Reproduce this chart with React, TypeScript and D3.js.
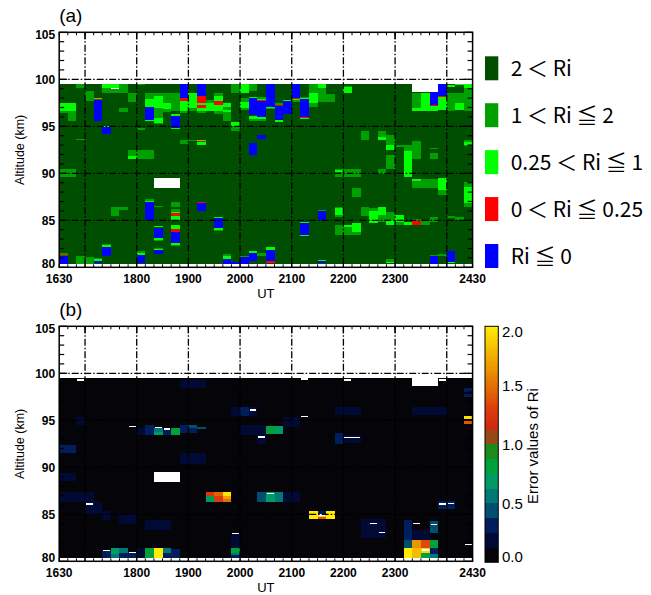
import React from 'react';
import * as d3 from 'd3';

// ---------------- axes ----------------
const TIME_DOMAIN = [1630, 2430];
const TIME_TICK_LABELS = [1630, 1800, 1900, 2000, 2100, 2200, 2300, 2430];
const TIME_GRID = [1700, 1800, 1900, 2000, 2100, 2200, 2300, 2400];
const ALT_DOMAIN = [80, 105];
const ALT_TICK_LABELS = [80, 85, 90, 95, 100, 105];
const ALT_GRID = [85, 90, 95, 100];

// ---------------- panel (a) : Ri classes ----------------
const RI_LABELS = ['2 ＜ Ri', '1 ＜ Ri ≦ 2', '0.25 ＜ Ri ≦ 1', '0 ＜ Ri ≦ 0.25', 'Ri ≦ 0'];
const RI_COLORS = ['#004e00', '#00a000', '#00ff00', '#ff0000', '#0000ff'];
// class: 0 dark, 1 medium, 2 light, 3 red, 4 blue, -1 missing
const W_ = -1, D = 0, M = 1, L = 2, R = 3, B = 4;
// [start UT, end UT, alt low, alt high, class]
const riPatches = [
  [1630, 2430, 80.4, 99.5, D],
  [1630, 1650, 96.6, 97.5, L], [1630, 1650, 96.4, 96.6, M], [1640, 1650, 95.6, 96.4, M],
  [1650, 1700, 99.1, 99.5, M], [1700, 1710, 97.7, 98.8, M],
  [1710, 1720, 97.9, 98.05, L], [1710, 1720, 97.75, 97.9, R], [1710, 1720, 95.6, 97.75, B],
  [1720, 1750, 98.5, 99.1, M], [1720, 1740, 99.1, 99.5, L], [1740, 1750, 99.1, 99.5, M],
  [1730, 1740, 98.95, 99.05, W_],
  [1750, 1800, 97.6, 98.5, M], [1740, 1750, 96.5, 96.95, M],
  [1720, 1730, 94.9, 95.0, L], [1720, 1730, 94.2, 94.9, B],
  [1650, 1700, 93.55, 93.7, M],
  [1750, 1800, 91.8, 92.5, M], [1750, 1800, 91.56, 91.8, L], [1800, 1820, 91.56, 92.5, M],
  [1800, 1810, 94.6, 94.8, M], [1850, 1900, 93.1, 93.5, M], [1900, 1910, 93.4, 93.5, M],
  [1910, 1920, 93.45, 93.55, L], [1910, 1920, 93.3, 93.45, R], [1910, 1920, 93.05, 93.3, L],
  [1630, 1650, 89.6, 90.5, M],
  [1800, 1810, 99.35, 99.5, M],
  [1810, 1820, 97.9, 98.5, M], [1810, 1820, 97.05, 97.9, L], [1810, 1820, 95.7, 97.05, B], [1810, 1820, 95.55, 95.7, L],
  [1820, 1830, 98.2, 98.5, M], [1820, 1830, 96.95, 98.2, L], [1820, 1830, 95.9, 96.95, M], [1820, 1830, 95.4, 95.9, L], [1820, 1830, 95.2, 95.4, M],
  [1830, 1840, 97.5, 98.5, M], [1830, 1840, 96.8, 97.5, L], [1830, 1840, 96.5, 96.8, M],
  [1840, 1850, 96.6, 98.5, M], [1840, 1850, 96.06, 96.35, L], [1840, 1850, 94.8, 96.06, B], [1840, 1850, 94.7, 94.8, L],
  [1850, 1900, 98.0, 99.5, B], [1850, 1900, 97.7, 98.0, R], [1850, 1900, 96.6, 97.7, L], [1850, 1900, 96.4, 96.6, M],
  [1900, 1910, 96.95, 98.5, L], [1900, 1910, 96.6, 96.95, M],
  [1910, 1920, 98.2, 99.5, B], [1910, 1920, 97.5, 98.2, R], [1910, 1920, 97.3, 97.5, L], [1910, 1920, 97.0, 97.3, R], [1910, 1920, 96.6, 97.0, L], [1910, 1920, 96.45, 96.6, M],
  [1920, 1950, 96.6, 97.5, L], [1920, 1930, 97.5, 97.8, M],
  [1930, 1940, 98.2, 98.55, M], [1930, 1940, 97.66, 98.2, L], [1930, 1940, 97.25, 97.66, R], [1930, 1940, 96.6, 97.25, L], [1930, 1940, 96.35, 96.6, M],
  [1940, 1950, 95.6, 97.1, M], [1940, 1950, 96.55, 96.7, L],
  [1950, 2000, 98.5, 99.5, M], [1950, 2000, 94.5, 95.0, M], [1950, 2000, 95.0, 95.45, L],
  [2000, 2010, 98.5, 99.5, L], [2000, 2010, 96.7, 98.0, M], [2000, 2010, 96.95, 97.55, L],
  [2010, 2020, 98.8, 99.5, M], [2010, 2020, 98.0, 98.12, L], [2010, 2020, 96.25, 98.0, B], [2010, 2020, 95.8, 96.05, L], [2010, 2020, 95.6, 95.8, M],
  [2010, 2020, 91.98, 93.22, B],
  [2020, 2030, 97.95, 98.15, M], [2020, 2030, 97.85, 97.95, L], [2020, 2030, 97.73, 97.85, R], [2020, 2030, 95.96, 97.73, B], [2020, 2030, 95.75, 95.96, L], [2020, 2030, 95.6, 95.75, M],
  [2020, 2030, 93.69, 94.04, B],
  [2030, 2040, 97.1, 99.5, B], [2030, 2040, 96.95, 97.1, L], [2030, 2040, 96.8, 96.95, M],
  [2040, 2050, 97.3, 97.45, M], [2040, 2050, 97.2, 97.3, R], [2040, 2050, 95.71, 97.2, B], [2040, 2050, 95.46, 95.71, L],
  [2050, 2100, 97.66, 97.76, L], [2050, 2100, 96.35, 97.66, B],
  [2100, 2110, 98.0, 99.5, B], [2100, 2110, 97.9, 98.0, R], [2100, 2110, 97.8, 97.9, L], [2100, 2110, 97.6, 97.8, M],
  [2110, 2120, 98.0, 98.15, M], [2110, 2120, 97.9, 98.0, L], [2110, 2120, 96.0, 97.9, B], [2110, 2120, 95.9, 96.0, R], [2110, 2120, 95.8, 95.9, L],
  [2120, 2130, 98.5, 99.5, M], [2120, 2130, 97.5, 98.5, L], [2120, 2130, 97.1, 97.5, M],
  [2130, 2140, 99.1, 99.5, L], [2130, 2140, 97.6, 99.1, M], [2140, 2150, 97.6, 98.4, M],
  [2200, 2210, 99.15, 99.3, M], [2200, 2210, 98.55, 99.15, L],
  [2320, 2330, 96.95, 98.5, M], [2320, 2330, 96.6, 96.95, L],
  [2330, 2340, 96.6, 98.5, L],
  [2340, 2350, 97.3, 98.6, B], [2340, 2350, 97.15, 97.3, R], [2340, 2350, 96.6, 97.15, L],
  [2350, 2400, 98.2, 99.5, B], [2350, 2400, 98.08, 98.2, R], [2350, 2400, 96.7, 98.08, L],
  [2400, 2410, 96.6, 98.5, M], [2400, 2410, 99.15, 99.4, L],
  [2410, 2420, 99.35, 99.5, L], [2410, 2420, 96.7, 98.5, M], [2410, 2420, 96.75, 97.45, L],
  [2420, 2430, 99.1, 99.5, L], [2420, 2430, 96.6, 99.1, M],
  [2320, 2350, 98.6, 99.5, W_],
  [2220, 2230, 93.58, 94.54, M], [2240, 2250, 93.86, 94.54, M], [2240, 2250, 93.55, 93.86, L],
  [2250, 2300, 93.05, 94.1, M], [2250, 2300, 92.5, 93.05, L], [2250, 2300, 90.5, 92.0, M],
  [2300, 2310, 92.8, 93.05, M], [2310, 2320, 92.4, 93.05, M], [2310, 2320, 89.6, 92.4, L],
  [2320, 2330, 91.56, 93.4, M], [2340, 2350, 91.56, 92.2, M], [2340, 2350, 92.6, 92.7, M],
  [2420, 2430, 92.87, 93.5, M], [2420, 2430, 93.05, 93.3, L],
  [2150, 2220, 89.6, 90.5, M], [2150, 2200, 90.1, 90.35, L], [2240, 2250, 89.9, 90.5, M],
  [1820, 1850, 88.47, 89.5, W_],
  [1730, 1740, 85.46, 86.45, M], [1740, 1750, 86.1, 86.45, M],
  [1810, 1820, 87.1, 87.25, M], [1810, 1820, 86.9, 87.1, L], [1810, 1820, 85.03, 86.9, B],
  [1820, 1830, 86.45, 86.55, M],
  [1840, 1850, 86.45, 86.98, M], [1840, 1850, 85.9, 86.2, M], [1840, 1850, 85.75, 85.9, L], [1840, 1850, 85.5, 85.75, R], [1840, 1850, 85.03, 85.5, L],
  [1910, 1920, 86.9, 87.0, M], [1910, 1920, 86.8, 86.9, R], [1910, 1920, 86.0, 86.8, B],
  [1930, 1940, 85.28, 85.38, L], [1930, 1940, 84.15, 85.28, B], [1930, 1940, 84.0, 84.15, L], [1930, 1940, 83.9, 84.0, M],
  [2130, 2140, 86.0, 86.1, M], [2130, 2140, 85.03, 86.0, B],
  [2110, 2120, 84.68, 84.78, L], [2110, 2120, 83.44, 84.68, B], [2110, 2120, 83.34, 83.44, L],
  [2150, 2200, 85.3, 86.45, M], [2150, 2200, 85.56, 86.27, L],
  [2150, 2220, 83.4, 84.5, M], [2200, 2220, 84.25, 84.5, L], [2210, 2220, 83.8, 84.7, L],
  [2210, 2220, 87.5, 88.4, M],
  [2220, 2230, 85.5, 86.45, M], [2230, 2240, 86.0, 86.3, M], [2230, 2240, 84.7, 86.0, L],
  [2240, 2250, 85.56, 86.4, L], [2240, 2250, 84.8, 85.56, M],
  [2250, 2300, 85.03, 85.9, M], [2250, 2300, 84.5, 85.03, L],
  [2300, 2310, 84.85, 85.6, L], [2300, 2310, 84.5, 84.85, M], [2310, 2320, 84.5, 84.85, L],
  [2320, 2330, 84.93, 85.1, M], [2320, 2330, 84.5, 84.93, R], [2330, 2340, 84.5, 84.95, M],
  [2340, 2350, 84.85, 85.39, M],
  [2320, 2350, 88.4, 89.36, M], [2320, 2330, 89.2, 89.36, L], [2350, 2400, 88.2, 89.46, L], [2350, 2400, 87.7, 88.2, M],
  [2420, 2430, 88.58, 89.1, M], [2420, 2430, 86.8, 88.58, L], [2420, 2430, 86.4, 86.8, M],
  [2400, 2410, 85.2, 85.46, M], [2410, 2420, 85.0, 85.3, M],
  [1630, 1640, 81.3, 81.56, M], [1630, 1640, 81.2, 81.3, R], [1630, 1640, 80.3, 81.2, B],
  [1650, 1700, 80.3, 81.2, M], [1700, 1710, 80.4, 81.06, M],
  [1710, 1720, 80.85, 80.95, M], [1710, 1720, 80.7, 80.85, L], [1710, 1720, 80.42, 80.7, B],
  [1720, 1730, 82.34, 82.48, M], [1720, 1730, 82.2, 82.34, L], [1720, 1730, 81.2, 82.2, B],
  [1800, 1810, 81.55, 81.75, M], [1800, 1810, 81.3, 81.55, L], [1800, 1810, 80.42, 81.3, B],
  [1820, 1830, 84.3, 84.4, L], [1820, 1830, 83.08, 84.2, B], [1820, 1830, 82.9, 83.08, L], [1820, 1830, 82.8, 82.9, M],
  [1820, 1830, 81.9, 82.05, M], [1820, 1830, 81.8, 81.9, L], [1820, 1830, 81.45, 81.8, B],
  [1840, 1850, 84.04, 84.55, L], [1840, 1850, 83.79, 84.04, R], [1840, 1850, 82.62, 83.79, B], [1840, 1850, 82.55, 82.62, R], [1840, 1850, 82.4, 82.55, L], [1840, 1850, 82.3, 82.4, M],
  [1940, 1950, 81.2, 81.4, M], [1940, 1950, 80.85, 81.2, L], [1940, 1950, 80.35, 80.85, B],
  [1950, 2000, 80.35, 80.6, B],
  [2000, 2010, 81.06, 81.15, M], [2000, 2010, 80.35, 81.06, B],
  [2010, 2020, 81.48, 81.73, L], [2010, 2020, 80.7, 81.48, B],
  [2020, 2030, 81.2, 81.48, M],
  [2030, 2040, 81.84, 82.12, L], [2030, 2040, 80.7, 81.84, B], [2030, 2040, 80.42, 80.7, R],
  [2130, 2140, 80.65, 80.8, L], [2130, 2140, 80.5, 80.65, B],
  [2250, 2300, 80.6, 80.85, M], [2250, 2300, 80.5, 80.6, L],
  [2340, 2350, 81.2, 81.35, M], [2340, 2350, 80.35, 81.2, B], [2350, 2400, 81.2, 81.4, M],
  [2400, 2410, 80.6, 81.73, B], [2400, 2410, 80.45, 80.6, L],
];

// ---------------- panel (b) : error of Ri ----------------
const ERR_TICKS = [0, 0.5, 1.0, 1.5, 2.0];
const ERR_BAND_STEP = 0.125;
const ERR_BAND_COLORS = ['#040409', '#000a34', '#001e5c', '#004e70', '#007874', '#009a64', '#00a03c', '#1c8a1c', '#984814'];
const ERR_HOT_STOPS = [1.125, 1.3, 1.6, 2.0];
const ERR_HOT_COLORS = ['#cc2810', '#dc3c0c', '#e88a00', '#ffec00'];
// [start UT, end UT, alt low, alt high, error value]
const errPatches = [
  [1630, 2430, 80.4, 99.5, 0.04],
  [1630, 1650, 91.5, 92.4, 0.25], [1630, 1650, 88.5, 89.4, 0.18], [1630, 1710, 86.34, 87.4, 0.2],
  [1700, 1720, 84.9, 86.34, 0.15], [1720, 1730, 84.4, 85.4, 0.18], [1650, 1700, 94.5, 95.3, 0.16],
  [1850, 1920, 90.4, 91.5, 0.2], [1850, 1920, 98.4, 99.3, 0.15], [1810, 1840, 83.3, 84.4, 0.15],
  [1740, 1800, 84.0, 85.0, 0.14], [1950, 2000, 81.4, 82.9, 0.22],
  [1950, 2020, 95.5, 96.4, 0.2], [2000, 2010, 95.5, 96.4, 0.33],
  [2000, 2030, 93.4, 94.5, 0.15], [2020, 2030, 92.5, 93.6, 0.2], [2050, 2110, 94.3, 95.3, 0.15],
  [2150, 2200, 92.5, 93.6, 0.28], [2200, 2220, 92.6, 93.4, 0.22], [2220, 2250, 82.5, 84.5, 0.18],
  [2310, 2320, 82.3, 84.4, 0.3], [2320, 2340, 82.3, 83.3, 0.22], [2340, 2350, 83.0, 84.3, 0.45],
  [2350, 2410, 85.6, 86.4, 0.3], [2420, 2430, 97.5, 98.4, 0.3], [2420, 2430, 97.85, 98.05, 0.05],
  [2320, 2400, 95.6, 96.4, 0.15], [2150, 2220, 95.6, 96.4, 0.14], [2050, 2110, 86.34, 87.4, 0.2],
  [1800, 1810, 93.4, 94.2, 0.2], [1810, 1820, 93.4, 94.5, 0.35],
  [1820, 1830, 93.8, 94.2, 0.55], [1820, 1830, 93.4, 93.8, 0.68],
  [1830, 1840, 93.4, 94.0, 0.3], [1840, 1850, 93.4, 94.2, 0.8],
  [1850, 1900, 93.6, 94.5, 0.35], [1900, 1910, 93.6, 94.5, 0.3], [1900, 1910, 94.2, 94.5, 0.45], [1910, 1920, 94.1, 94.3, 0.42],
  [1720, 1730, 80.4, 81.1, 0.25], [1730, 1740, 80.8, 81.4, 0.68], [1730, 1740, 80.4, 80.8, 0.58],
  [1740, 1750, 80.9, 81.4, 0.5], [1740, 1750, 80.4, 80.9, 0.3], [1750, 1800, 80.4, 81.0, 0.3],
  [1800, 1810, 80.4, 81.4, 0.22], [1810, 1820, 80.4, 81.4, 0.78], [1820, 1830, 80.4, 81.4, 2.0],
  [1830, 1840, 80.9, 81.4, 0.6], [1830, 1840, 80.4, 80.9, 0.3], [1840, 1850, 80.4, 81.3, 0.3],
  [1920, 1930, 87.0, 87.4, 1.25], [1920, 1930, 86.7, 87.0, 0.85], [1920, 1930, 86.34, 86.7, 0.65],
  [1930, 1940, 86.9, 87.4, 1.45], [1930, 1940, 86.34, 86.9, 1.28],
  [1940, 1950, 86.9, 87.4, 1.97], [1940, 1950, 86.6, 86.9, 1.7], [1940, 1950, 86.34, 86.6, 1.5],
  [1950, 2000, 80.9, 81.4, 0.8], [1950, 2000, 80.7, 80.9, 0.55], [1950, 2000, 80.4, 80.7, 0.3],
  [2020, 2030, 93.6, 94.4, 0.2], [2030, 2040, 93.5, 94.4, 0.82], [2040, 2050, 93.5, 94.4, 0.68],
  [2020, 2030, 86.34, 87.4, 0.45], [2030, 2040, 86.34, 87.4, 0.72], [2040, 2050, 86.34, 87.4, 0.6],
  [2120, 2130, 84.47, 85.35, 2.0], [2130, 2140, 84.9, 85.35, 0.3], [2130, 2140, 84.75, 84.9, 1.9], [2130, 2140, 84.47, 84.75, 1.4], [2140, 2150, 84.47, 85.35, 2.0],
  [2310, 2320, 81.4, 82.3, 0.4], [2310, 2320, 80.4, 81.4, 2.0],
  [2320, 2330, 81.4, 82.3, 1.65], [2320, 2330, 80.4, 81.4, 1.8],
  [2330, 2340, 81.4, 82.3, 1.35], [2330, 2340, 80.9, 81.4, 1.9], [2330, 2340, 80.4, 80.9, 0.85],
  [2340, 2350, 81.4, 82.3, 0.8], [2340, 2350, 80.8, 81.4, 0.25], [2340, 2350, 80.4, 80.8, 0.6],
  [2420, 2430, 95.1, 95.45, 1.95], [2420, 2430, 95.0, 95.1, 0.05], [2420, 2430, 94.58, 95.0, 1.4],
];
const errMissing = [[1820, 1850, 88.47, 89.5], [2320, 2350, 98.6, 99.5]];
// thin missing slivers: [start UT, end UT, altitude]
const errSlivers = [
  [1650, 1700, 99.3], [1750, 1800, 94.32], [1820, 1830, 94.22], [1830, 1840, 94.05], [1700, 1710, 86.1],
  [1720, 1730, 81.13], [1750, 1800, 80.95], [1950, 2000, 82.98], [2110, 2120, 99.4], [2110, 2120, 95.43],
  [2010, 2020, 96.1], [2020, 2030, 93.2], [2030, 2040, 87.23], [2200, 2220, 93.16], [2200, 2210, 99.3],
  [2350, 2400, 99.3], [2230, 2240, 84.04], [2240, 2250, 83.08], [2320, 2330, 84.04], [2340, 2350, 83.93],
  [2330, 2340, 81.2], [2350, 2400, 86.1], [2400, 2410, 86.17], [2420, 2430, 81.8], [2130, 2140, 84.93],
];

// ---------------- layout ----------------
const PLOT_X = [59.2, 472.6];
const PANEL_A_Y = [267.3, 32.3];
const PANEL_OFFSET = 294;
const FONT = '"Liberation Sans", Arial, Helvetica, sans-serif';

const toHours = (v: number) => Math.floor(v / 100) + (v % 100) / 60;

const xScale = d3.scaleLinear().domain(TIME_DOMAIN.map(toHours)).range(PLOT_X);

const hotScale = d3.scaleLinear<string>().domain(ERR_HOT_STOPS).range(ERR_HOT_COLORS).clamp(true);
const errColor = (v: number) => {
  if (v < ERR_HOT_STOPS[0]) {
    const i = Math.max(0, Math.min(ERR_BAND_COLORS.length - 1, Math.floor(v / ERR_BAND_STEP)));
    return ERR_BAND_COLORS[i];
  }
  return hotScale(v);
};

type Cell = { t0: number; t1: number; lo: number; hi: number; fill: string };

function Panel({ offset, label, cells, slivers }: { offset: number; label: string; cells: Cell[]; slivers: number[][] }) {
  const y = d3.scaleLinear().domain(ALT_DOMAIN).range([PANEL_A_Y[0] + offset, PANEL_A_Y[1] + offset]);
  const x = xScale;
  const [x0, x1] = PLOT_X;
  const yTop = y(ALT_DOMAIN[1]);
  const yBot = y(ALT_DOMAIN[0]);
  const minorAlt = d3.range(ALT_DOMAIN[0], ALT_DOMAIN[1] + 1, 1);
  const minorTime = d3.range(16.5, 24.5 + 1e-6, 1 / 6);
  const hourTicks = TIME_GRID.map(toHours);
  return (
    <g>
      <text x={x0} y={offset + 22} fontFamily={FONT} fontSize={19}>{label}</text>
      <g shapeRendering="crispEdges">
        {cells.map((c, i) => (
          <rect key={i} x={x(toHours(c.t0))} width={x(toHours(c.t1)) - x(toHours(c.t0))}
            y={y(c.hi)} height={y(c.lo) - y(c.hi)} fill={c.fill} />
        ))}
        {slivers.map((s, i) => (
          <rect key={'s' + i} x={x(toHours(s[0])) + 1} width={x(toHours(s[1])) - x(toHours(s[0])) - 2}
            y={y(s[2]) - 0.75} height={1.5} fill="#fff" />
        ))}
      </g>
      {TIME_GRID.map((t) => (
        <line key={'gx' + t} x1={x(toHours(t))} x2={x(toHours(t))} y1={yTop} y2={yBot}
          stroke="#000" strokeWidth={1.3} strokeDasharray="7,2,1.5,2" />
      ))}
      {ALT_GRID.map((a) => (
        <line key={'gy' + a} x1={x0} x2={x1} y1={y(a)} y2={y(a)}
          stroke="#000" strokeWidth={1.3} strokeDasharray="7,2,1.5,2" />
      ))}
      {minorAlt.map((a) => {
        const len = a % 5 === 0 ? 8 : 5;
        return (
          <g key={'ty' + a}>
            <line x1={x0} x2={x0 + len} y1={y(a)} y2={y(a)} stroke="#000" strokeWidth={1.2} />
            <line x1={x1} x2={x1 - len} y1={y(a)} y2={y(a)} stroke="#000" strokeWidth={1.2} />
          </g>
        );
      })}
      {minorTime.map((h, i) => (
        <g key={'tx' + i}>
          <line x1={x(h)} x2={x(h)} y1={yBot} y2={yBot - 3} stroke="#000" strokeWidth={1} />
          <line x1={x(h)} x2={x(h)} y1={yTop} y2={yTop + 3} stroke="#000" strokeWidth={1} />
        </g>
      ))}
      {hourTicks.map((h, i) => (
        <g key={'hx' + i}>
          <line x1={x(h)} x2={x(h)} y1={yBot} y2={yBot - 7} stroke="#000" strokeWidth={1.2} />
          <line x1={x(h)} x2={x(h)} y1={yTop} y2={yTop + 7} stroke="#000" strokeWidth={1.2} />
        </g>
      ))}
      <rect x={x0} y={yTop} width={x1 - x0} height={yBot - yTop} fill="none" stroke="#000" strokeWidth={1.5} />
      {ALT_TICK_LABELS.map((a) => {
        const yy = Math.max(yTop + 2.4, Math.min(yBot - 4, y(a)));
        return (
          <text key={'ly' + a} x={x0 - 4} y={yy + 4.3} textAnchor="end" fontFamily={FONT} fontWeight="bold" fontSize={12}>{a}</text>
        );
      })}
      {TIME_TICK_LABELS.map((t) => (
        <text key={'lx' + t} x={x(toHours(t))} y={yBot + 16} textAnchor="middle" fontFamily={FONT} fontWeight="bold" fontSize={12}>{t}</text>
      ))}
      <text x={(x0 + x1) / 2} y={yBot + 30.5} textAnchor="middle" fontFamily={FONT} fontSize={13}>UT</text>
      <text transform={`translate(${24},${(yTop + yBot) / 2}) rotate(-90)`} textAnchor="middle" fontFamily={FONT} fontSize={12.5}>Altitude (km)</text>
    </g>
  );
}

export default function App() {
  const cellsA: Cell[] = riPatches.map((p) => ({ t0: p[0], t1: p[1], lo: p[2], hi: p[3], fill: p[4] < 0 ? '#fff' : RI_COLORS[p[4]] }));
  const cellsB: Cell[] = [
    ...errPatches.map((p) => ({ t0: p[0], t1: p[1], lo: p[2], hi: p[3], fill: errColor(p[4]) })),
    ...errMissing.map((p) => ({ t0: p[0], t1: p[1], lo: p[2], hi: p[3], fill: '#fff' })),
  ];

  // legend (a)
  const legendY = d3.scaleLinear().domain([0, RI_LABELS.length - 1]).range([68.3, 256]);

  // colorbar (b)
  const cbY = d3.scaleLinear().domain([ERR_TICKS[0], ERR_TICKS[ERR_TICKS.length - 1]]).range([PANEL_A_Y[0] + PANEL_OFFSET + 1, PANEL_A_Y[1] + PANEL_OFFSET]);
  const cbX = 485, cbW = 13.3;
  const bandEdges = d3.range(0, ERR_HOT_STOPS[0] + 1e-9, ERR_BAND_STEP);
  const hotSteps = d3.range(ERR_HOT_STOPS[0], 2.0, 0.0125);

  return (
    <svg width={651} height={595} style={{ position: 'absolute', left: 0, top: 0, background: '#fff' }}>
      <rect x={0} y={0} width={651} height={595} fill="#fff" />
      <Panel offset={0} label="(a)" cells={cellsA} slivers={[]} />
      <Panel offset={PANEL_OFFSET} label="(b)" cells={cellsB} slivers={errSlivers} />

      {RI_LABELS.map((lab, i) => (
        <g key={'lg' + i}>
          <rect x={485} y={legendY(i) - 12} width={13.3} height={24} fill={RI_COLORS[i]} />
          <text x={510.7} y={legendY(i) + 7.5} fontFamily='"Noto Sans CJK JP", sans-serif' fontSize={21}>{lab}</text>
        </g>
      ))}

      <g shapeRendering="crispEdges">
        {bandEdges.slice(0, -1).map((v, i) => (
          <rect key={'cb' + i} x={cbX} width={cbW} y={cbY(v + ERR_BAND_STEP)} height={cbY(v) - cbY(v + ERR_BAND_STEP)} fill={ERR_BAND_COLORS[i]} />
        ))}
        {hotSteps.map((v, i) => (
          <rect key={'ch' + i} x={cbX} width={cbW} y={cbY(v + 0.0125)} height={cbY(v) - cbY(v + 0.0125) + 0.5} fill={hotScale(v + 0.00625)} />
        ))}
      </g>
      <rect x={cbX} y={cbY(2)} width={cbW} height={cbY(0) - cbY(2)} fill="none" stroke="#000" strokeWidth={1} />
      {ERR_TICKS.map((v) => {
        const yy = Math.max(cbY(2) + 5.5, Math.min(cbY(0) - 5.5, cbY(v)));
        return (
          <text key={'ct' + v} x={502} y={yy + 5.4} fontFamily={FONT} fontSize={15}>{v.toFixed(1)}</text>
        );
      })}
      <text transform={`translate(${538},${446}) rotate(-90)`} textAnchor="middle" fontFamily={FONT} fontSize={15}>Error values of Ri</text>
    </svg>
  );
}
